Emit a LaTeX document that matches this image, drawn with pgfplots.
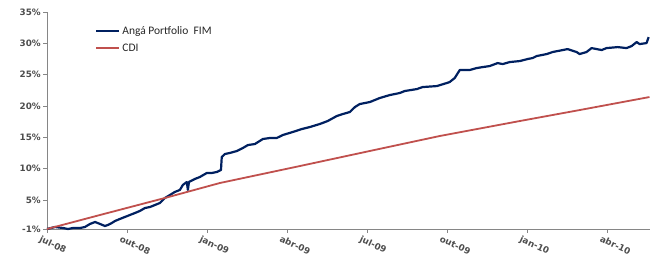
\documentclass[border=0pt]{standalone}
\usepackage{fontspec}
\setmainfont{DejaVu Sans}
\newfontfamily\legfont{Carlito}
\usepackage{pgfplots}
\pgfplotsset{compat=1.18}
\definecolor{navy}{HTML}{002060}
\definecolor{cdired}{HTML}{C0504D}
\definecolor{axgray}{HTML}{868686}
\definecolor{lblgray}{HTML}{4D4D4D}
\begin{document}
\begin{tikzpicture}[x=1pt,y=1pt]
\useasboundingbox (0,0) rectangle (650,262);
\begin{axis}[
  at={(47pt,33pt)}, anchor=south west,
  scale only axis, width=603pt, height=217pt,
  xmin=0, xmax=22.6, ymin=0.37, ymax=35,
  axis lines*=left,
  axis line style={draw=axgray, line width=0.8pt},
  tick align=outside, major tick length=4pt,
  tick style={draw=axgray, line width=0.8pt},
  clip=false,
  xtick={0,3,6,9,12,15,18,21},
  xticklabels={jul-08,out-08,jan-09,abr-09,jul-09,out-09,jan-10,abr-10},
  x tick label style={rotate=-25, anchor=north west, font=\bfseries\fontsize{8.8}{10}\selectfont, text=lblgray, xshift=-5pt, yshift=-3pt, inner sep=1pt},
  ytick={0.37,5,10,15,20,25,30,35},
  yticklabels={-1\%,5\%,10\%,15\%,20\%,25\%,30\%,35\%},
  y tick label style={font=\bfseries\fontsize{8.8}{10}\selectfont, text=lblgray, inner sep=2pt},
  legend style={at={(0.0796,0.945)}, anchor=north west, draw=none, fill=none,
    font=\legfont\fontsize{11.5}{13}\selectfont, text=black!85, inner sep=0pt, row sep=4pt},
  legend cell align=left,
  legend image code/.code={\draw[#1] (0pt,0pt) -- (23pt,0pt);},
]
\addplot[navy, line width=2.2pt, line join=round] coordinates {
(0,0.37)(0.30,0.69)(0.60,0.53)(0.79,0.37)(0.97,0.53)(1.24,0.53)(1.42,0.69)
(1.61,1.17)(1.80,1.49)(1.99,1.17)(2.17,0.85)(2.28,1.01)(2.43,1.33)(2.55,1.65)
(2.73,1.97)(2.92,2.29)(3.11,2.61)(3.30,2.93)(3.48,3.25)(3.67,3.72)(3.86,3.88)
(4.23,4.52)(4.42,5.32)(4.61,5.80)(4.79,6.28)(4.98,6.60)(5.09,7.39)(5.24,7.87)
(5.28,6.60)(5.32,7.87)(5.54,8.35)(5.73,8.67)(5.99,9.31)(6.18,9.31)(6.37,9.47)
(6.52,9.79)(6.55,11.86)(6.67,12.34)(6.85,12.50)(7.12,12.82)(7.34,13.29)(7.53,13.77)
(7.79,13.93)(8.09,14.73)(8.35,14.89)(8.61,14.89)(8.84,15.37)(9.21,15.85)(9.55,16.32)
(9.85,16.64)(10.22,17.12)(10.52,17.60)(10.86,18.40)(11.09,18.72)(11.35,19.04)
(11.54,19.83)(11.72,20.31)(12.10,20.63)(12.47,21.27)(12.85,21.75)(13.22,22.07)
(13.41,22.39)(13.86,22.70)(14.08,23.02)(14.61,23.18)(14.98,23.66)(15.09,23.82)
(15.28,24.46)(15.47,25.74)(15.84,25.74)(16.10,26.05)(16.33,26.21)(16.59,26.37)
(16.89,26.85)(17.08,26.69)(17.34,27.01)(17.72,27.17)(18.01,27.49)(18.20,27.65)
(18.35,27.97)(18.73,28.29)(18.95,28.61)(19.33,28.93)(19.51,29.08)(19.85,28.61)
(19.96,28.29)(20.22,28.61)(20.41,29.24)(20.60,29.08)(20.79,28.93)(20.97,29.24)
(21.39,29.40)(21.72,29.24)(21.91,29.56)(22.10,30.20)(22.21,29.88)(22.47,30.04)
(22.55,31.00)
};
\addlegendentry{Angá Portfolio\ \ FIM}
\addplot[cdired, line width=1.8pt, line join=round] coordinates {
(0,0.37)(1.99,2.61)(4.42,5.32)(6.48,7.71)(9.48,10.42)(12.10,12.82)
(14.72,15.21)(17.72,17.60)(19.96,19.35)(22.58,21.43)
};
\addlegendentry{CDI}
\end{axis}
\end{tikzpicture}
\end{document}
